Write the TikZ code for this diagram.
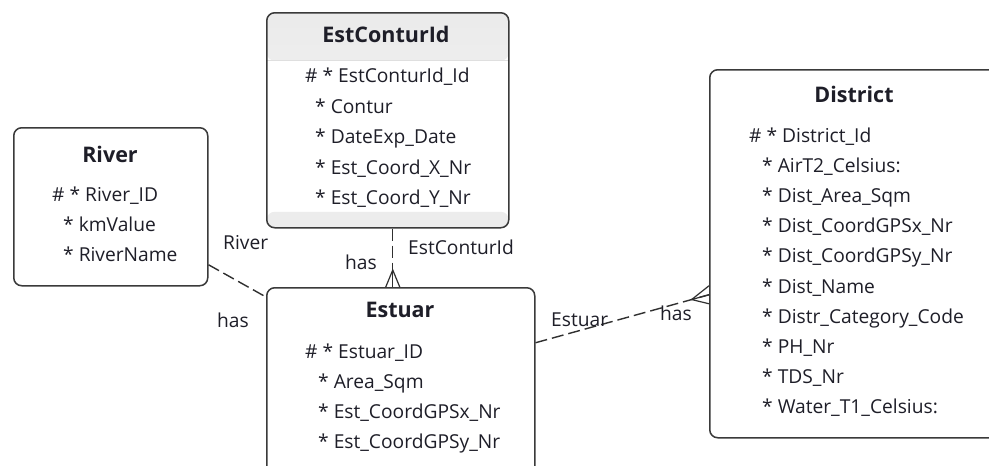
\documentclass[tikz,border=0pt]{standalone}
\usepackage{fontspec}
\setmainfont{Open Sans}
\usetikzlibrary{calc}
\definecolor{txt}{HTML}{1E1E28}
\definecolor{bord}{HTML}{3A3A3A}
\definecolor{lnk}{HTML}{303030}
\begin{document}
\begin{tikzpicture}[x=1pt,y=-1pt,
  entity/.style={draw=bord, line width=1.5pt, rounded corners=8pt, fill=white, anchor=north west, inner sep=0pt},
  attr/.style={anchor=base west, inner sep=0pt, font=\fontsize{19.2}{21}\selectfont, text=txt},
  ttl/.style={anchor=base, inner sep=0pt, font=\fontsize{21.5}{23}\selectfont\bfseries, text=txt},
  lbl/.style={anchor=base west, inner sep=0pt, font=\fontsize{19.2}{21}\selectfont, text=txt},
  rel/.style={draw=lnk, line width=1.4pt, dash pattern=on 12pt off 5pt},
  crow/.style={draw=lnk, line width=1.2pt}]
\useasboundingbox (0,0) rectangle (989,466);
\clip (0,0) rectangle (989,466);
\fill[white] (0,0) rectangle (989,466);

% boxes
\node[entity, minimum width=194pt, minimum height=158pt] (river) at (13,127) {};
\node[entity, minimum width=242pt, minimum height=215pt,
  path picture={
    \fill[top color=gray!16, bottom color=gray!6] (path picture bounding box.north west) rectangle ([yshift=-48pt]path picture bounding box.north east);
    \draw[gray!25, line width=0.6pt] ([yshift=-48pt]path picture bounding box.north west) -- ([yshift=-48pt]path picture bounding box.north east);
    \fill[gray!15] ([yshift=16pt]path picture bounding box.south west) rectangle (path picture bounding box.south east);
  }] (contur) at (266,12) {};
\node[entity, minimum width=268pt, minimum height=200pt] (estuar) at (266,287) {};
\node[entity, minimum width=290pt, minimum height=368pt] (district) at (709,69) {};

% connectors
\coordinate (rA) at ([yshift=-58pt]river.east);
\coordinate (rB) at ([yshift=-10pt]estuar.north west);
\draw[rel] (rA) -- (rB);

\coordinate (cA) at ([xshift=5pt]contur.south);
\coordinate (cB) at (cA |- estuar.north);
\draw[rel] (cA) -- (cB);
\draw[crow] ($(cB)+(-7,0)$) -- ($(cB)+(0,-17)$) -- ($(cB)+(7,0)$);
\draw[crow] ($(cB)+(0,-17)$) -- (cB);

\coordinate (eA) at ([yshift=45pt]estuar.east);
\coordinate (dB) at ([yshift=-41pt]district.west);
\draw[rel] (eA) -- (dB);
\coordinate (dX) at ($(dB)!18pt!(eA)$);
\draw[crow] ([yshift=9pt]dB) -- (dX) -- ([yshift=-9pt]dB);
\draw[crow] (dX) -- (dB);

% River
\node[ttl] (riverT) at (110,162) {River};
\node[attr] (river1) at (52,201) {\# * River\_ID};
\node[attr] (river2) at (63,231) {* kmValue};
\node[attr] (river3) at (63,261) {* RiverName};

% EstConturId
\node[ttl] (conturT) at (386,42) {EstConturId};
\node[attr] (contur1) at (305,82) {\# * EstConturId\_Id};
\node[attr] (contur2) at (315,113) {* Contur};
\node[attr] (contur3) at (315,143) {* DateExp\_Date};
\node[attr] (contur4) at (315,174) {* Est\_Coord\_X\_Nr};
\node[attr] (contur5) at (315,204) {* Est\_Coord\_Y\_Nr};

% Estuar
\node[ttl] (estuarT) at (400,317) {Estuar};
\node[attr] (estuar1) at (305,358) {\# * Estuar\_ID};
\node[attr] (estuar2) at (318,388) {* Area\_Sqm};
\node[attr] (estuar3) at (318,418) {* Est\_CoordGPSx\_Nr};
\node[attr] (estuar4) at (318,448) {* Est\_CoordGPSy\_Nr};

% District
\node[ttl] (districtT) at (854,102) {District};
\node[attr] (d1) at (749,142) {\# * District\_Id};
\node[attr] (d2) at (762,172) {* AirT2\_Celsius:};
\node[attr] (d3) at (762,202) {* Dist\_Area\_Sqm};
\node[attr] (d4) at (762,232) {* Dist\_CoordGPSx\_Nr};
\node[attr] (d5) at (762,262) {* Dist\_CoordGPSy\_Nr};
\node[attr] (d6) at (762,293) {* Dist\_Name};
\node[attr] (d7) at (762,323) {* Distr\_Category\_Code};
\node[attr] (d8) at (762,353) {* PH\_Nr};
\node[attr] (d9) at (762,383) {* TDS\_Nr};
\node[attr] (d10) at (762,413) {* Water\_T1\_Celsius:};

% connector labels
\node[lbl] (l1) at (223,249) {River};
\node[lbl] (l2) at (217,327) {has};
\node[lbl] (l3) at (345,269) {has};
\node[lbl] (l4) at (408,254) {EstConturId};
\node[lbl] (l5) at (551,326) {Estuar};
\node[lbl] (l6) at (660,320) {has};
\end{tikzpicture}
\end{document}
